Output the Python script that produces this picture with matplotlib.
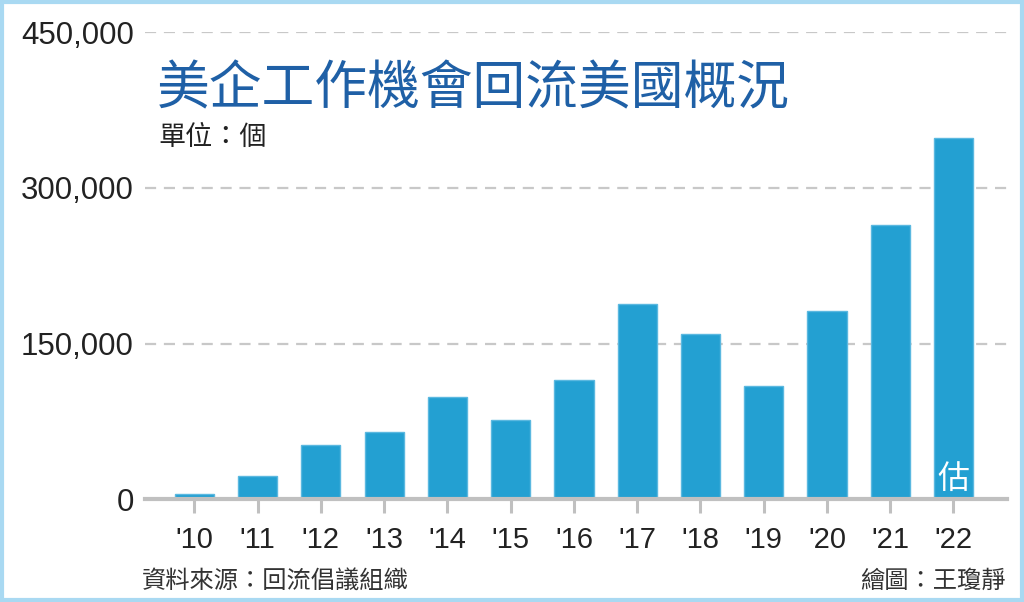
import matplotlib
matplotlib.use("Agg")
import matplotlib.pyplot as plt
from matplotlib.patches import Rectangle

years = ["'10", "'11", "'12", "'13", "'14", "'15", "'16",
         "'17", "'18", "'19", "'20", "'21", "'22"]
jobs = [5500, 23000, 52000, 65000, 99000, 76000, 115000,
        188000, 159000, 109500, 181000, 264000, 348000]
yticks = [0, 150000, 300000, 450000]

cjk = ['Noto Sans CJK TC', 'DejaVu Sans']
num_font = ['Liberation Sans', 'DejaVu Sans']

fig = plt.figure(figsize=(10.24, 6.02), dpi=100)
ax = fig.add_axes([0.1416, 0.1704, 0.8414, 0.7764])

x = range(len(years))
ax.bar(x, jobs, width=0.62, color='#23a0d2', edgecolor='#5bb8e0', linewidth=1, zorder=3)

ax.set_ylim(0, 450000)
ax.set_xlim(-0.78, 12.84)
ax.set_yticks(yticks)
ax.set_yticklabels([f"{v:,}" for v in yticks], fontfamily=num_font, fontsize=22.5, color='#222222')
ax.set_xticks(list(x))
ax.set_xticklabels(years, fontfamily=num_font, fontsize=21, color='#222222')

for v in yticks[1:]:
    ax.axhline(v, color='#c8c8c8', lw=1.6, ls=(0, (5, 3.5)), zorder=1)

for s in ['top', 'right', 'left']:
    ax.spines[s].set_visible(False)
ax.spines['bottom'].set_color('#c0c0c0')
ax.spines['bottom'].set_linewidth(3)
ax.spines['bottom'].set_zorder(4)
ax.tick_params(axis='y', length=0, pad=8)
ax.tick_params(axis='x', length=10, width=2.2, color='#c0c0c0', pad=9)

# title and notes
fig.text(0.153, 0.853, '美企工作機會回流美國概況', family=cjk, fontsize=38,
         color='#1f60a6', va='center', ha='left')
fig.text(0.155, 0.772, '單位：個', family=cjk, fontsize=19.5,
         color='#222222', va='center', ha='left')
fig.text(0.139, 0.036, '資料來源：回流倡議組織', family=cjk, fontsize=17.5,
         color='#333333', va='center', ha='left')
fig.text(0.982, 0.036, '繪圖：王瓊靜', family=cjk, fontsize=17.5,
         color='#333333', va='center', ha='right')
ax.text(12, 4000, '估', family=cjk, fontsize=23, color='white',
        ha='center', va='bottom', zorder=5)

# light blue frame
fig.patches.append(Rectangle((0.0015, 0.0025), 0.997, 0.995, transform=fig.transFigure,
                             fill=False, edgecolor='#a9d9f2', lw=3))

fig.savefig('out.png', dpi=100)
